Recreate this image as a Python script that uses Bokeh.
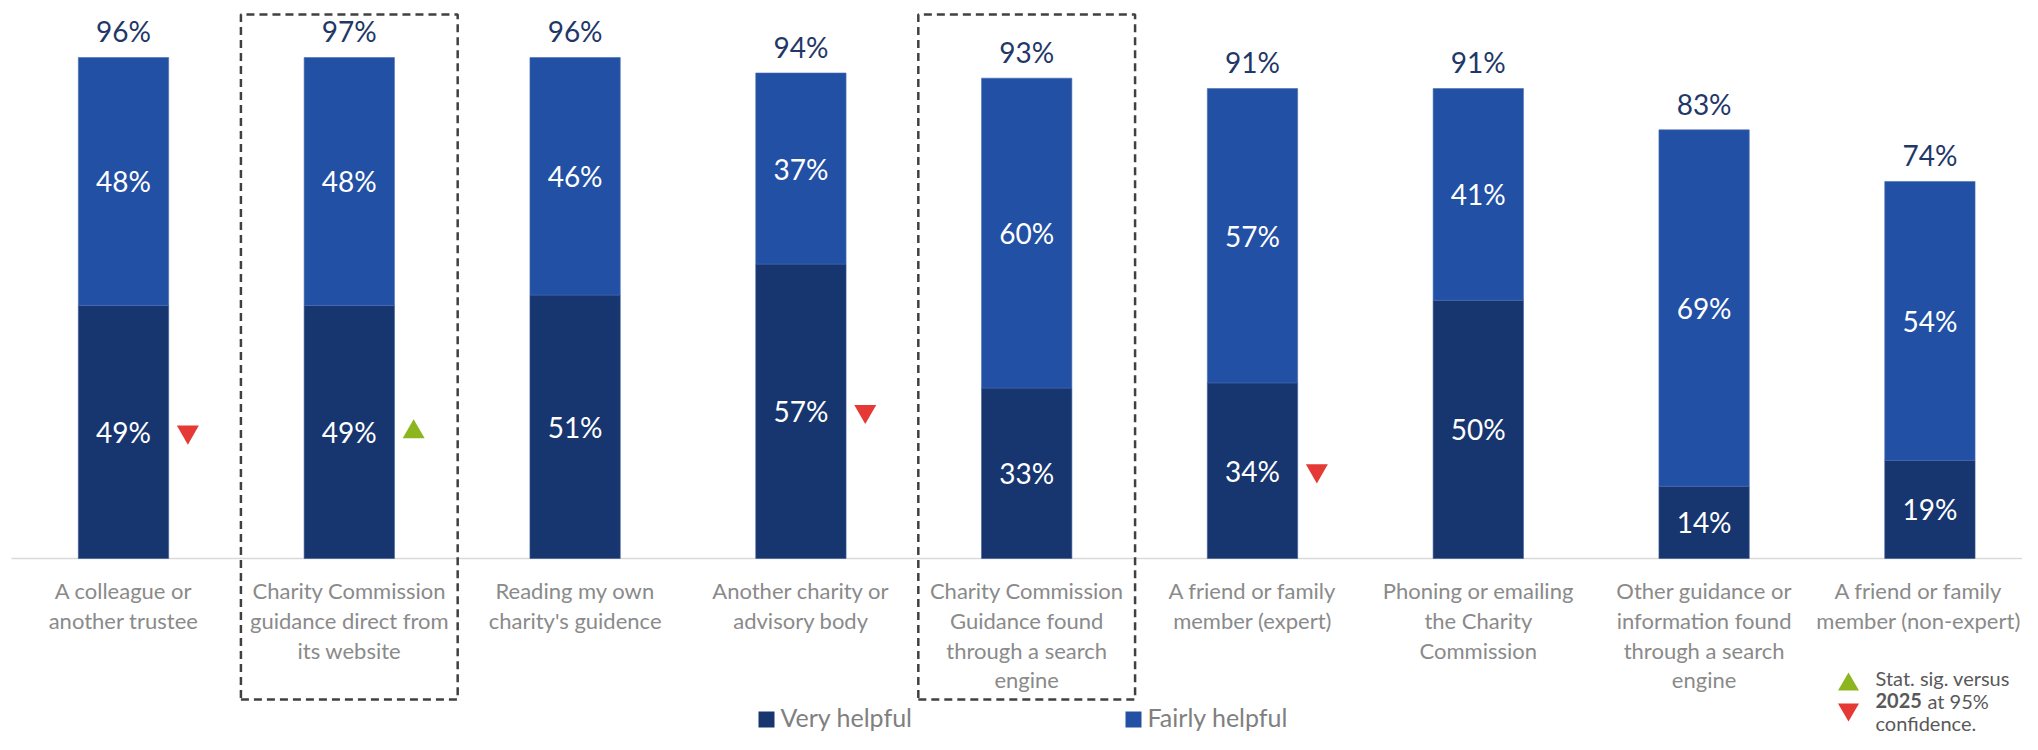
from bokeh.plotting import figure
from bokeh.models import ColumnDataSource, Range1d
from bokeh.core.properties import value
from bokeh.embed import file_html
from bokeh.resources import INLINE

# ---------------- data ----------------
categories = [
    "A colleague or\nanother trustee",
    "Charity Commission\nguidance direct from\nits website",
    "Reading my own\ncharity's guidence",
    "Another charity or\nadvisory body",
    "Charity Commission\nGuidance found\nthrough a search\nengine",
    "A friend or family\nmember (expert)",
    "Phoning or emailing\nthe Charity\nCommission",
    "Other guidance or\ninformation found\nthrough a search\nengine",
    "A friend or family\nmember (non-expert)",
]
very_helpful = [49, 49, 51, 57, 33, 34, 50, 14, 19]
fairly_helpful = [48, 48, 46, 37, 60, 57, 41, 69, 54]
total_labels = [96, 97, 96, 94, 93, 91, 91, 83, 74]
sig_change = ["down", "up", "", "down", "", "down", "", "", ""]
highlighted = [1, 4]
series_names = ["Very helpful", "Fairly helpful"]
note_lines = ["Stat. sig. versus", "2025", "at 95%", "confidence."]

# ---------------- style ----------------
DARK = "#17356F"
LIGHT = "#2250A5"
NAVY_TXT = "#1F3868"
GREY_TXT = "#8A8A8A"
LEG_TXT = "#808080"
NOTE_TXT = "#595959"
GREEN = "#8DB51E"
RED = "#E53935"
FONT = "Lato"

W, H = 2022, 734
PX_PER_PCT = 5.165       # vertical pixels per percentage point
BASE_PX = 558            # baseline y in figure pixels
CAT_PX = 225.8           # pixels between categories
C0_PX = 123              # first category centre, figure px

def xd(px):  # figure px -> data x
    return (px - C0_PX) / CAT_PX

def yd(py):  # figure px (from top) -> data y
    return (BASE_PX - py) / PX_PER_PCT

p = figure(width=W, height=H, output_backend="svg", toolbar_location=None,
           x_range=Range1d(xd(0), xd(W)), y_range=Range1d(yd(H), yd(0)),
           x_axis_type=None, y_axis_type=None, min_border=0)
p.grid.visible = False
p.outline_line_color = None
p.background_fill_color = "white"
p.border_fill_color = "white"

n = len(categories)
xs = list(range(n))
tops = [v + f for v, f in zip(very_helpful, fairly_helpful)]

src = ColumnDataSource(dict(
    x=xs, very=very_helpful, fairly=fairly_helpful, top=tops,
    very_mid=[v / 2 for v in very_helpful],
    fairly_mid=[v + f / 2 for v, f in zip(very_helpful, fairly_helpful)],
    very_lbl=[f"{v}%" for v in very_helpful],
    fairly_lbl=[f"{f}%" for f in fairly_helpful],
    total_lbl=[f"{t}%" for t in total_labels],
    total_y=[t + 26 / PX_PER_PCT for t in tops],
))

# baseline
p.segment(x0=[xd(11)], y0=[0], x1=[xd(W)], y1=[0], line_color="#D9D9D9", line_width=1.5)

BW = 0.4
p.vbar(x="x", bottom=0, top="very", width=BW, source=src, fill_color=DARK,
       line_color="#3B5A96", line_width=0.6)
p.vbar(x="x", bottom="very", top="top", width=BW, source=src, fill_color=LIGHT,
       line_color="#4A6DB3", line_width=0.6)

for col_y, col_t, colr in (("very_mid", "very_lbl", "white"),
                           ("fairly_mid", "fairly_lbl", "white"),
                           ("total_y", "total_lbl", NAVY_TXT)):
    p.text(x="x", y=col_y, text=col_t, source=src, text_color=colr,
           text_font=value(FONT), text_font_size="28px", text_align="center",
           text_baseline="middle")

# significance triangles
up_x = [i + 0.285 for i in xs if sig_change[i] == "up"]
up_y = [very_helpful[i] / 2 for i in xs if sig_change[i] == "up"]
dn_x = [i + 0.285 for i in xs if sig_change[i] == "down"]
dn_y = [very_helpful[i] / 2 for i in xs if sig_change[i] == "down"]
p.scatter(x=up_x, y=up_y, marker="triangle", size=22, fill_color=GREEN, line_color=None)
p.scatter(x=dn_x, y=dn_y, marker="inverted_triangle", size=22, fill_color=RED, line_color=None)

# category labels (kept inside the right edge)
lx, ly, lt = [], [], []
x_limit = xd(W - 104)
for i, c in enumerate(categories):
    cx = min(i, x_limit)
    for k, line in enumerate(c.split("\n")):
        lx.append(cx)
        ly.append(yd(590 + k * 29.8))
        lt.append(line)
p.text(x=lx, y=ly, text=lt, text_color=GREY_TXT, text_font=value(FONT),
       text_font_size="22px", text_align="center", text_baseline="middle")

# dashed highlight boxes
for h in highlighted:
    x0, x1 = h - 0.48, h + 0.48
    y0, y1 = yd(699), yd(14)
    p.line(x=[x0, x1, x1, x0, x0], y=[y0, y0, y1, y1, y0], line_color="#404040",
           line_width=2.5, line_dash="8 5")

# legend
p.rect(x=[xd(766), xd(1133)], y=[yd(719), yd(719)], width=16 / CAT_PX,
       height=16 / PX_PER_PCT, fill_color=[DARK, LIGHT], line_color=None)
p.text(x=[xd(780), xd(1147)], y=[yd(716), yd(716)], text=series_names,
       text_color=LEG_TXT, text_font=value(FONT), text_font_size="25px",
       text_align="left", text_baseline="middle")

# significance note
p.scatter(x=[xd(1848)], y=[yd(684)], marker="triangle", size=21, fill_color=GREEN, line_color=None)
p.scatter(x=[xd(1848)], y=[yd(709)], marker="inverted_triangle", size=21, fill_color=RED, line_color=None)
p.text(x=[xd(1875)], y=[yd(677)], text=[note_lines[0]], text_color=NOTE_TXT,
       text_font=value(FONT), text_font_size="20px", text_baseline="middle")
p.text(x=[xd(1875)], y=[yd(700)], text=[note_lines[1]], text_color=NOTE_TXT,
       text_font=value(FONT), text_font_size="20px", text_font_style="bold",
       text_baseline="middle")
p.text(x=[xd(1927)], y=[yd(700)], text=[note_lines[2]], text_color=NOTE_TXT,
       text_font=value(FONT), text_font_size="20px", text_baseline="middle")
p.text(x=[xd(1875)], y=[yd(722)], text=[note_lines[3]], text_color=NOTE_TXT,
       text_font=value(FONT), text_font_size="20px", text_baseline="middle")

open("out.html", "w").write(file_html(p, INLINE))
